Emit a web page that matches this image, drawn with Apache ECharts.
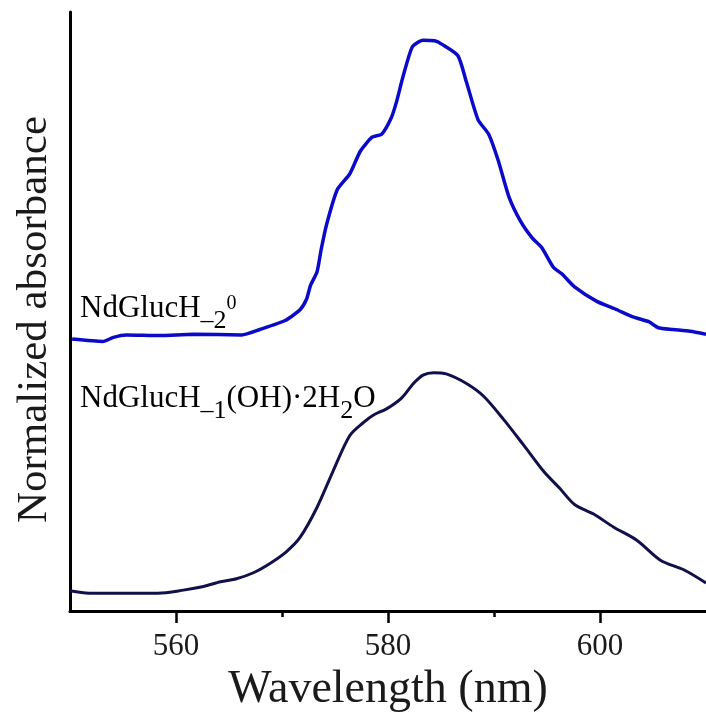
<!DOCTYPE html>
<html>
<head>
<meta charset="utf-8">
<script src="https://cdn.jsdelivr.net/npm/echarts@6/dist/echarts.min.js"></script>
<style>
html, body { margin: 0; padding: 0; background: #fff; }
#chart { width: 706px; height: 718px; }
</style>
</head>
<body>
<div id="chart"></div>
<script>
// NdGlucH-2^0 (blue, upper trace)
var blueWl = [550.2, 553.1, 554.1, 555.3, 558.5, 561.6, 566.2, 567.9, 570.3, 571.7, 572.3, 572.7, 573.3, 573.7, 574.2,
  575.2, 576.4, 577.4, 578.5, 579.4, 580.3, 580.8, 581.4, 582.3, 583.3, 584.4, 585.1, 586.6, 587.4, 588.5, 589.5,
  590.4, 591.4, 592.5, 593.6, 594.5, 595.6, 596.4, 597.6, 599.7, 601.6, 603.1, 604.6, 605.5, 606.9, 608.5, 610.0];
var blueAbs = [0.454, 0.450, 0.457, 0.461, 0.460, 0.462, 0.461, 0.470, 0.485, 0.503, 0.520, 0.544, 0.566, 0.604, 0.645,
  0.703, 0.730, 0.768, 0.791, 0.796, 0.823, 0.850, 0.891, 0.942, 0.953, 0.952, 0.946, 0.927, 0.883, 0.820, 0.796,
  0.752, 0.692, 0.651, 0.623, 0.607, 0.574, 0.563, 0.541, 0.517, 0.503, 0.491, 0.483, 0.473, 0.470, 0.467, 0.462];

// NdGlucH-1(OH)·2H2O (dark, lower trace)
var darkWl = [550.0, 551.8, 555.7, 558.3, 560.7, 562.6, 564.2, 565.7, 567.3, 568.9, 570.4, 571.7, 573.3, 574.8, 576.4,
  577.7, 578.6, 579.9, 581.3, 582.4, 583.3, 584.3, 585.5, 587.4, 589.0, 590.9, 592.8, 594.7, 596.2, 597.6, 599.4,
  601.3, 603.5, 605.7, 607.9, 610.0];
var darkAbs = [0.034, 0.030, 0.030, 0.030, 0.035, 0.041, 0.049, 0.054, 0.064, 0.080, 0.099, 0.123, 0.173, 0.233, 0.293,
  0.315, 0.327, 0.338, 0.356, 0.380, 0.394, 0.398, 0.396, 0.380, 0.359, 0.320, 0.277, 0.233, 0.205, 0.178, 0.162,
  0.140, 0.118, 0.085, 0.069, 0.047];

var majorTicks = [560, 580, 600];
var minorTicks = [570, 590];

function pairs(xs, ys) {
  return xs.map(function (x, i) { return [x, ys[i]]; });
}

var font = 'Liberation Serif';
var chart = echarts.init(document.getElementById('chart'));

// rich text pieces for the chemical formulas (sub/superscripts)
var mainTok = { fontFamily: font, fontSize: 31, lineHeight: 50, verticalAlign: 'middle', color: '#1a1a1a' };
var subTok = { fontFamily: font, fontSize: 26, lineHeight: 26, verticalAlign: 'middle', padding: [24, 0, 0, 0], color: '#1a1a1a' };
var supTok = { fontFamily: font, fontSize: 20, lineHeight: 20, verticalAlign: 'middle', padding: [0, 0, 10, 0], color: '#1a1a1a' };

var option = {
  animation: false,
  backgroundColor: '#fff',
  grid: { left: 70, right: 0, top: 12, bottom: 96 },
  xAxis: [
    {
      type: 'value',
      min: 550,
      max: 610,
      position: 'bottom',
      axisLine: { onZero: false, lineStyle: { color: '#000', width: 3 } },
      axisTick: { customValues: majorTicks, length: 12, lineStyle: { color: '#000', width: 2.5 } },
      axisLabel: { customValues: majorTicks, margin: 20, fontFamily: font, fontSize: 31, color: '#1a1a1a' },
      splitLine: { show: false },
      name: 'Wavelength (nm)',
      nameLocation: 'middle',
      nameGap: 47,
      nameTextStyle: { fontFamily: font, fontSize: 46, color: '#1a1a1a' }
    },
    {
      type: 'value',
      min: 550,
      max: 610,
      position: 'bottom',
      axisLine: { show: false, onZero: false },
      axisTick: { customValues: minorTicks, length: 6, lineStyle: { color: '#000', width: 2.5 } },
      axisLabel: { show: false },
      splitLine: { show: false }
    }
  ],
  yAxis: {
    type: 'value',
    min: 0,
    max: 1,
    axisLine: { show: true, onZero: false, lineStyle: { color: '#000', width: 3 } },
    axisTick: { show: false },
    axisLabel: { show: false },
    splitLine: { show: false },
    name: 'Normalized absorbance',
    nameLocation: 'middle',
    nameGap: 14,
    nameTextStyle: { fontFamily: font, fontSize: 43, color: '#1a1a1a', padding: [0, 16, 0, 0] }
  },
  series: [
    {
      name: 'NdGlucH-2',
      type: 'line',
      data: pairs(blueWl, blueAbs),
      showSymbol: false,
      smooth: 0.2,
      lineStyle: { color: '#0a0ac8', width: 3.5 }
    },
    {
      name: 'NdGlucH-1(OH)2H2O',
      type: 'line',
      data: pairs(darkWl, darkAbs),
      showSymbol: false,
      smooth: 0.3,
      lineStyle: { color: '#10104a', width: 3 }
    }
  ],
  graphic: [
    {
      type: 'text',
      style: {
        x: 80, y: 284, align: 'left', verticalAlign: 'top',
        text: '{m|NdGlucH}{s|–2}{p|0}',
        rich: { m: mainTok, s: subTok, p: supTok }
      }
    },
    {
      type: 'text',
      style: {
        x: 80, y: 374, align: 'left', verticalAlign: 'top',
        text: '{m|NdGlucH}{s|–1}{m|(OH)·2H}{s|2}{m|O}',
        rich: { m: mainTok, s: subTok }
      }
    }
  ]
};

chart.setOption(option);
</script>
</body>
</html>
